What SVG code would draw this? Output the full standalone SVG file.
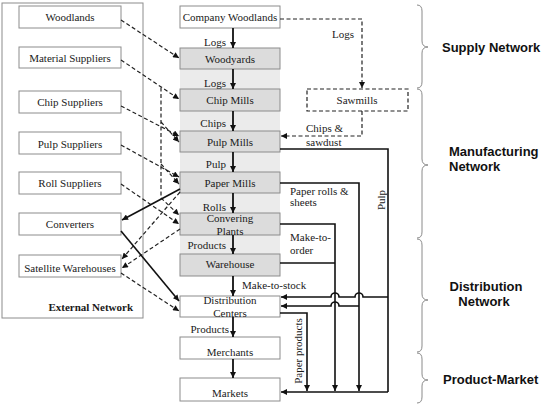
<svg xmlns="http://www.w3.org/2000/svg" width="548" height="407" viewBox="0 0 548 407">
<style>
  .box{fill:#fff;stroke:#8c8c8c;stroke-width:1}
  .gbox{fill:#dcdcdc;stroke:#8c8c8c;stroke-width:1}
  .dbox{fill:#fff;stroke:#222;stroke-width:1.2;stroke-dasharray:4 2.5}
  .t{font-family:"Liberation Serif","Times New Roman",serif;font-size:11px;fill:#1a1a1a}
  .m{text-anchor:middle}
  .e{text-anchor:end}
  .b{font-weight:bold}
  .h{font-family:"Liberation Sans",Arial,sans-serif;font-size:13px;font-weight:bold;fill:#111}
  .sol{fill:none;stroke:#111;stroke-width:1.6}
  .main{fill:none;stroke:#111;stroke-width:1.8}
  .dash{fill:none;stroke:#222;stroke-width:1.2;stroke-dasharray:4 2.5}
  .brace{fill:none;stroke:#8a8a8a;stroke-width:1}
</style>
<defs>
  <marker id="ah" viewBox="0 0 10 10" refX="10" refY="5" markerWidth="7" markerHeight="6" markerUnits="userSpaceOnUse" orient="auto">
    <path d="M0,0 L10,5 L0,10 z" fill="#111"/>
  </marker>
</defs>
<rect width="548" height="407" fill="#fff"/>

<!-- External network frame -->
<g id="external-network">
  <rect x="2" y="3" width="141" height="315" fill="#fff" stroke="#8c8c8c" stroke-width="1"/>
  <text class="t b e" x="133" y="311">External Network</text>
</g>

<!-- gray band behind manufacturing column -->
<rect x="180" y="48" width="100" height="228" fill="#ebebeb"/>

<g id="woodlands"><rect class="box" x="19" y="6" width="102" height="22"/><text class="t m" x="70" y="21">Woodlands</text></g>
<g id="material-suppliers"><rect class="box" x="19" y="47" width="102" height="21"/><text class="t m" x="70" y="62">Material Suppliers</text></g>
<g id="chip-suppliers"><rect class="box" x="19" y="91" width="102" height="22"/><text class="t m" x="70" y="106">Chip Suppliers</text></g>
<g id="pulp-suppliers"><rect class="box" x="19" y="132" width="102" height="22"/><text class="t m" x="70" y="148">Pulp Suppliers</text></g>
<g id="roll-suppliers"><rect class="box" x="19" y="172" width="102" height="22"/><text class="t m" x="70" y="187">Roll Suppliers</text></g>
<g id="converters"><rect class="box" x="19" y="213" width="102" height="22"/><text class="t m" x="70" y="228">Converters</text></g>
<g id="satellite-warehouses"><rect class="box" x="19" y="255" width="102" height="22"/><text class="t m" x="70" y="272">Satellite Warehouses</text></g>

<g id="company-woodlands"><rect class="box" x="180" y="6" width="100" height="22"/><text class="t m" x="230" y="21">Company Woodlands</text></g>
<g id="woodyards"><rect class="gbox" x="180" y="48" width="100" height="21"/><text class="t m" x="230" y="63">Woodyards</text></g>
<g id="chip-mills"><rect class="gbox" x="180" y="89" width="100" height="22"/><text class="t m" x="230" y="104">Chip Mills</text></g>
<g id="pulp-mills"><rect class="gbox" x="180" y="131" width="100" height="21"/><text class="t m" x="230" y="146">Pulp Mills</text></g>
<g id="paper-mills"><rect class="gbox" x="180" y="172" width="100" height="21"/><text class="t m" x="230" y="187">Paper Mills</text></g>
<g id="converting-plants"><rect class="gbox" x="180" y="213" width="100" height="22"/><text class="t m" x="230" y="222">Convering</text><text class="t m" x="230" y="234.5">Plants</text></g>
<g id="warehouse"><rect class="gbox" x="180" y="254" width="100" height="22"/><text class="t m" x="230" y="268">Warehouse</text></g>
<g id="distribution-centers"><rect class="box" x="180" y="296" width="100" height="21"/><text class="t m" x="230" y="304">Distribution</text><text class="t m" x="230" y="316.5">Centers</text></g>
<g id="merchants"><rect class="box" x="180" y="337" width="100" height="22"/><text class="t m" x="230" y="356">Merchants</text></g>
<g id="markets"><rect class="box" x="180" y="378" width="100" height="23"/><text class="t m" x="230" y="397">Markets</text></g>
<g id="sawmills"><rect class="dbox" x="307" y="89" width="101" height="22"/><text class="t m" x="357" y="104">Sawmills</text></g>

<g id="connectors">
  <!-- main column -->
  <path class="main" d="M233,28 V48" marker-end="url(#ah)"/>
  <path class="main" d="M233,69 V89" marker-end="url(#ah)"/>
  <path class="main" d="M233,111 V131" marker-end="url(#ah)"/>
  <path class="main" d="M233,152 V172" marker-end="url(#ah)"/>
  <path class="main" d="M233,193 V213" marker-end="url(#ah)"/>
  <path class="main" d="M233,235 V254" marker-end="url(#ah)"/>
  <path class="main" d="M233,276 V296" marker-end="url(#ah)"/>
  <path class="main" d="M233,317 V337" marker-end="url(#ah)"/>
  <path class="main" d="M233,359 V378" marker-end="url(#ah)"/>

  <!-- external dashed supply links -->
  <path class="dash" d="M121,20 L179,58" marker-end="url(#ah)"/>
  <path class="dash" d="M121,60 L179,99" marker-end="url(#ah)"/>
  <path class="dash" d="M161,87.4 V198 L179,215" marker-end="url(#ah)"/>
  <path class="dash" d="M121,106 L179,136" marker-end="url(#ah)"/>
  <path class="dash" d="M161,122 L179,142" marker-end="url(#ah)"/>
  <path class="dash" d="M121,145 L179,177" marker-end="url(#ah)"/>
  <path class="dash" d="M161,164 L179,184" marker-end="url(#ah)"/>
  <path class="dash" d="M121,184 L179,224" marker-end="url(#ah)"/>
  <!-- outbound to external -->
  <path class="sol" d="M180,189 L122,220" marker-end="url(#ah)"/>
  <path class="dash" d="M180,192 L122,259" marker-end="url(#ah)"/>
  <path class="dash" d="M180,229 L122,268" marker-end="url(#ah)"/>
  <path class="sol" d="M121,231 L179,301" marker-end="url(#ah)"/>
  <path class="dash" d="M121,273 L179,311" marker-end="url(#ah)"/>

  <!-- sawmills -->
  <path class="dash" d="M280,19 H362 V88" marker-end="url(#ah)"/>
  <path class="dash" d="M362,111 V136 H281" marker-end="url(#ah)"/>

  <!-- right side distribution -->
  <path class="sol" d="M280,149 H388 V392"/>
  <path class="sol" d="M280,183 H359 V391" marker-end="url(#ah)"/>
  <path class="sol" d="M280,224 H335 V391" marker-end="url(#ah)"/>
  <path class="sol" d="M280,263 H335"/>
  <path class="sol" d="M280,313 H307 V391" marker-end="url(#ah)"/>
  <path class="sol" d="M388,392 H281" marker-end="url(#ah)"/>
  <path class="sol" d="M388,297 H363 a4,4 0 0 0 -8,0 H339 a4,4 0 0 0 -8,0 H281" marker-end="url(#ah)"/>
  <path class="sol" d="M359,306 H339 a4,4 0 0 0 -8,0 H281" marker-end="url(#ah)"/>

  <!-- labels -->
  <text class="t e" x="226" y="46">Logs</text>
  <text class="t e" x="226" y="87">Logs</text>
  <text class="t e" x="226" y="127">Chips</text>
  <text class="t e" x="226" y="168">Pulp</text>
  <text class="t e" x="226" y="211">Rolls</text>
  <text class="t e" x="226" y="249">Products</text>
  <text class="t" x="242" y="289">Make-to-stock</text>
  <text class="t e" x="229" y="333">Products</text>
  <text class="t m" x="343" y="38">Logs</text>
  <text class="t" x="306" y="132">Chips &amp;</text>
  <text class="t" x="306" y="146">sawdust</text>
  <text class="t" x="290" y="195">Paper rolls &amp;</text>
  <text class="t" x="290" y="206">sheets</text>
  <text class="t" x="290" y="241">Make-to-</text>
  <text class="t" x="290" y="254">order</text>
  <text class="t m" transform="translate(385,200) rotate(-90)">Pulp</text>
  <text class="t m" transform="translate(302,351) rotate(-90)">Paper products</text>
</g>

<!-- braces and network labels -->
<g id="supply-network">
  <path class="brace" d="M417,5 Q422,5 422,11 V41 Q422,47 428,47 Q422,47 422,53 V82 Q422,88 417,88"/>
  <text class="h" x="442" y="52">Supply Network</text>
</g>
<g id="manufacturing-network">
  <path class="brace" d="M417,89 Q422,89 422,95 V159 Q422,165 428,165 Q422,165 422,171 V232 Q422,238 417,238"/>
  <text class="h" x="449" y="156">Manufacturing</text>
  <text class="h" x="449" y="171">Network</text>
</g>
<g id="distribution-network">
  <path class="brace" d="M417,239 Q422,239 422,245 V294 Q422,300 428,300 Q422,300 422,306 V346 Q422,352 417,352"/>
  <text class="h m" x="486" y="291">Distribution</text>
  <text class="h m" x="484" y="306">Network</text>
</g>
<g id="product-market">
  <path class="brace" d="M417,353 Q422,353 422,359 V374 Q422,380 428,380 Q422,380 422,386 V397 Q422,403 417,403"/>
  <text class="h" x="443" y="384">Product-Market</text>
</g>
</svg>
